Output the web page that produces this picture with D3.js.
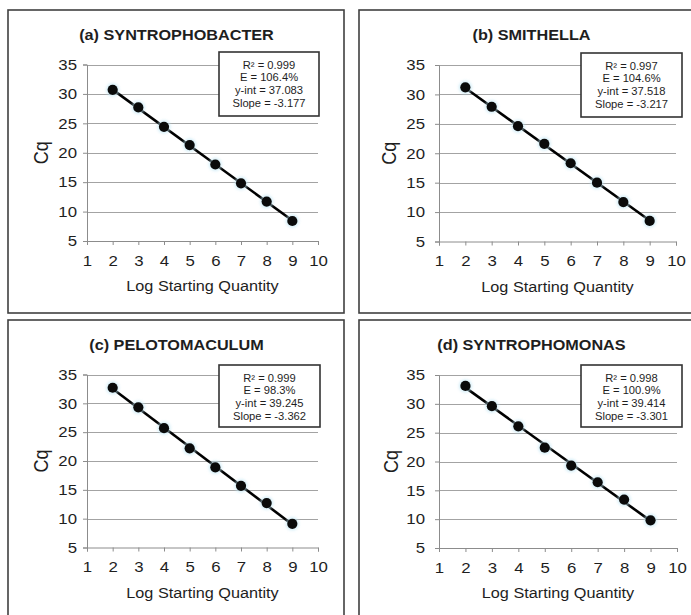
<!DOCTYPE html>
<html>
<head>
<meta charset="utf-8">
<script src="https://cdn.jsdelivr.net/npm/d3@7"></script>
<style>
  html, body { margin: 0; padding: 0; background: #fff; overflow: hidden; }
  svg { display: block; }
  text { font-family: "Liberation Sans", Arial, Helvetica, sans-serif; fill: #1e1e1e; }
</style>
</head>
<body>
<svg id="chart" width="691" height="615"></svg>
<script>
// Standard curves: Cq against log starting quantity for four syntrophic genera
const logQuantity = [2, 3, 4, 5, 6, 7, 8, 9];
const cqSyntrophobacter = [30.7, 27.7, 24.4, 21.3, 18.0, 14.8, 11.7, 8.4];
const cqSmithella       = [31.2, 27.9, 24.6, 21.6, 18.3, 15.0, 11.7, 8.5];
const cqPelotomaculum   = [32.7, 29.3, 25.7, 22.2, 18.9, 15.7, 12.7, 9.1];
const cqSyntrophomonas  = [33.1, 29.6, 26.1, 22.4, 19.3, 16.4, 13.4, 9.8];

const panelTitles = ["(a) SYNTROPHOBACTER", "(b) SMITHELLA", "(c) PELOTOMACULUM", "(d) SYNTROPHOMONAS"];
const rSquared   = ["0.999", "0.997", "0.999", "0.998"];
const efficiency = ["106.4", "104.6", "98.3", "100.9"];
const yIntercept = [37.083, 37.518, 39.245, 39.414];
const slope      = [-3.177, -3.217, -3.362, -3.301];

const xTicks = [1, 2, 3, 4, 5, 6, 7, 8, 9, 10];
const yTicks = [5, 10, 15, 20, 25, 30, 35];
const xDomain = [1, 10];
const yDomain = [5, 35];
const xTitle = "Log Starting Quantity";
const yTitle = "Cq";

const seriesValues = [cqSyntrophobacter, cqSmithella, cqPelotomaculum, cqSyntrophomonas];

// Panel frames: outer box, plot area, title anchor, legend box
const frames = [
  { box: [8, 10, 344, 313],   plot: [87, 318, 64.5, 241],   title: [176.5, 35],  cqX: 41,  yPad: 6,  legend: [219, 52, 319, 116] },
  { box: [359, 10, 706, 313], plot: [439, 676, 65, 241.5],  title: [531.5, 35],  cqX: 389, yPad: 10, legend: [581, 53, 682, 117] },
  { box: [8, 320, 344, 630],  plot: [87, 318, 374.5, 547.5], title: [176.5, 345], cqX: 41,  yPad: 6,  legend: [219, 365, 320, 427] },
  { box: [359, 320, 706, 630], plot: [439, 677, 375, 548],  title: [531.5, 345], cqX: 391, yPad: 10, legend: [581, 365, 682, 427] }
];

const sx = 1.12;           // horizontal stretch of the lettering
const gridColor = "#a3a3a3";
const axisColor = "#8c8c8c";

const svg = d3.select("#chart");

const defs = svg.append("defs");
defs.append("filter").attr("id", "glow")
  .attr("x", "-50%").attr("y", "-50%").attr("width", "200%").attr("height", "200%")
  .append("feGaussianBlur").attr("stdDeviation", 1.6);

frames.forEach((f, i) => {
  const g = svg.append("g");
  const [bx0, by0, bx1, by1] = f.box;
  const [px0, px1, pyTop, pyBot] = f.plot;

  g.append("rect")
    .attr("x", bx0).attr("y", by0)
    .attr("width", bx1 - bx0).attr("height", by1 - by0)
    .attr("fill", "#fff").attr("stroke", "#404040").attr("stroke-width", 1.6);

  const x = d3.scaleLinear().domain(xDomain).range([px0, px1]);
  const y = d3.scaleLinear().domain(yDomain).range([pyBot, pyTop]);

  // horizontal gridlines
  g.append("g").selectAll("line")
    .data(yTicks.filter(v => v !== yDomain[0]))
    .join("line")
    .attr("x1", px0).attr("x2", px1)
    .attr("y1", d => Math.round(y(d)) + 0.5).attr("y2", d => Math.round(y(d)) + 0.5)
    .attr("stroke", gridColor).attr("stroke-width", 1);

  // y axis
  const ya = g.append("g")
    .attr("transform", `translate(${px0},0)`)
    .call(d3.axisLeft(y).tickValues(yTicks).tickSize(4).tickPadding(f.yPad).tickFormat(d3.format("d")));
  // x axis
  const xa = g.append("g")
    .attr("transform", `translate(0,${pyBot})`)
    .call(d3.axisBottom(x).tickValues(xTicks).tickSize(4).tickPadding(10).tickFormat(d3.format("d")));

  [ya, xa].forEach(a => {
    a.select(".domain").attr("stroke", axisColor);
    a.selectAll(".tick line").attr("stroke", axisColor);
    a.selectAll(".tick text")
      .attr("font-size", 15)
      .attr("font-family", null)
      .attr("fill", "#1e1e1e");
  });
  ya.selectAll(".tick text").each(function () {
    const t = d3.select(this);
    const tx = +t.attr("x");
    t.attr("x", 0).attr("transform", `translate(${tx},0) scale(${sx},1)`);
  });
  xa.selectAll(".tick text").attr("transform", `scale(${sx},1)`);

  // axis titles
  g.append("text")
    .attr("transform", `translate(${(px0 + px1) / 2},${pyBot + 45}) scale(${sx},1)`)
    .attr("text-anchor", "middle").attr("dy", "0.35em")
    .attr("font-size", 14.5)
    .text(xTitle);

  g.append("text")
    .attr("transform", `translate(${f.cqX},${(pyTop + pyBot) / 2}) scale(${sx},1) rotate(-90)`)
    .attr("text-anchor", "middle").attr("dy", "0.35em")
    .attr("font-size", 18)
    .text(yTitle);

  // panel title
  g.append("text")
    .attr("transform", `translate(${f.title[0]},${f.title[1]}) scale(${sx},1)`)
    .attr("text-anchor", "middle").attr("dy", "0.35em")
    .attr("font-size", 14.5).attr("font-weight", "bold")
    .text(panelTitles[i]);

  // regression line from the stated intercept and slope
  const xs = [logQuantity[0], logQuantity[logQuantity.length - 1]];
  g.append("path")
    .datum(xs.map(v => [v, yIntercept[i] + slope[i] * v]))
    .attr("d", d3.line().x(d => x(d[0])).y(d => y(d[1])))
    .attr("stroke", "#000").attr("stroke-width", 2.6).attr("fill", "none");

  // measured points with a faint halo
  const pts = logQuantity.map((v, k) => [v, seriesValues[i][k]]);
  g.append("g").selectAll("circle")
    .data(pts).join("circle")
    .attr("cx", d => x(d[0])).attr("cy", d => y(d[1]))
    .attr("r", 6.5).attr("fill", "#bfe6f4").attr("opacity", 0.7)
    .attr("filter", "url(#glow)");
  g.append("g").selectAll("circle")
    .data(pts).join("circle")
    .attr("cx", d => x(d[0])).attr("cy", d => y(d[1]))
    .attr("r", 5.1).attr("fill", "#0a0a0a");

  // statistics box
  const [lx0, ly0, lx1, ly1] = f.legend;
  g.append("rect")
    .attr("x", lx0).attr("y", ly0)
    .attr("width", lx1 - lx0).attr("height", ly1 - ly0)
    .attr("fill", "#fff").attr("stroke", "#333").attr("stroke-width", 1.6);
  const lines = [
    `R² = ${rSquared[i]}`,
    `E = ${efficiency[i]}%`,
    `y-int = ${yIntercept[i].toFixed(3)}`,
    `Slope = ${slope[i].toFixed(3)}`
  ];
  g.append("g").selectAll("text")
    .data(lines).join("text")
    .attr("transform", (d, k) => `translate(${(lx0 + lx1) / 2},${ly0 + 13 + k * 12.9}) scale(${sx},1)`)
    .attr("text-anchor", "middle").attr("dy", "0.35em")
    .attr("font-size", 10).attr("fill", "#2a2a2a")
    .text(d => d);
});
</script>
</body>
</html>
